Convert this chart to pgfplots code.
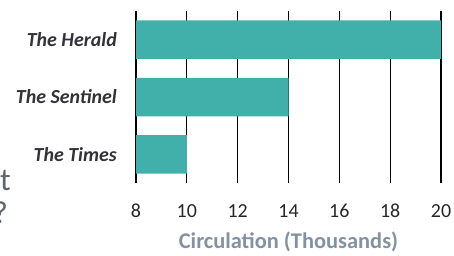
\documentclass[border=0pt]{standalone}
\usepackage{pgfplots}
\pgfplotsset{compat=1.18}
\usepackage{fontspec}
\setmainfont{Carlito}
\definecolor{barteal}{RGB}{66,176,170}
\definecolor{labgray}{RGB}{130,146,162}
\definecolor{catdark}{RGB}{50,50,55}
\definecolor{titlegray}{RGB}{95,100,112}
\begin{document}
\begin{tikzpicture}[x=1bp,y=1bp]
\useasboundingbox (0,0) rectangle (454,255);
\begin{axis}[
  at={(136bp,72bp)}, anchor=south west,
  scale only axis, width=305bp, height=172bp,
  xbar, bar width=38.5bp,
  xmin=8, xmax=20, ymin=-0.5, ymax=2.5,
  xtick={8,10,...,20},
  ytick={0,1,2},
  yticklabels={The Times, The Sentinel, The Herald},
  axis line style={draw=none},
  major tick length=0pt,
  xmajorgrids, grid style={black, line width=1.3pt},
  /pgf/number format/assume math mode=true,
  xticklabel style={font=\fontsize{20}{20}\selectfont, text=black!85, anchor=base, inner sep=0pt, yshift=-34bp},
  yticklabel style={font=\fontsize{20}{20}\selectfont\bfseries\itshape, text=catdark, anchor=east, inner sep=0pt, xshift=-19bp},
  xlabel={\textbf{Circulation (Thousands)}},
  xlabel style={font=\fontsize{22.5}{23}\selectfont, text=labgray, at={(axis description cs:0.5,0)}, anchor=base, inner sep=0pt, yshift=-65bp},
  clip=true,
]
\addplot[fill=barteal, draw=none] coordinates {(10,0) (14,1) (20,2)};
\end{axis}
\node[anchor=base east, font=\fontsize{32}{32}\selectfont, text=titlegray, inner sep=0] at (11,65) {t};
\node[anchor=base east, font=\fontsize{32}{32}\selectfont, text=titlegray, inner sep=0] at (8,32) {?};
\end{tikzpicture}
\end{document}
